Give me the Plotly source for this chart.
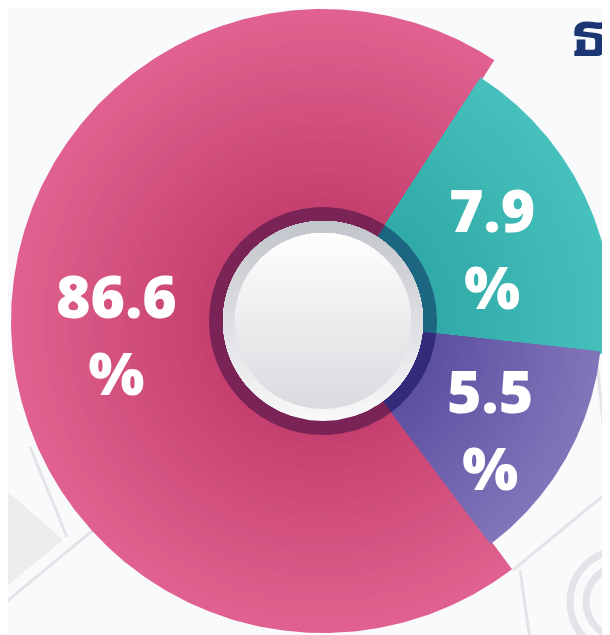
import numpy as np
import plotly.graph_objects as go

# ---------------- data ----------------
# slices in clockwise order, starting at the teal slice
categories = ["7.9%", "5.5%", "86.6%"]
values = [7.9, 5.5, 86.6]
# the infographic is not drawn to scale: angular spans
span_deg = [63.4, 46.0, 250.6]
first_start_deg = 33.3          # clockwise from 12 o'clock
title_text = "ธร"

# ---------------- style ----------------
PAGE_OFF = 8                     # default body margin of the html page
W, H = 610 - PAGE_OFF, 635 - PAGE_OFF
CX, CY = 323 - PAGE_OFF, 321 - PAGE_OFF   # centre of the donut inside the figure
outer_r = [290, 279, 312]
inner_col = ["#2ea8a5", "#584c9f", "#c33d6c"]
outer_col = ["#46c0bc", "#8274b9", "#e0618f"]
ring_col = ["#1c6681", "#342a7a", "#7a2357"]
label_angle = [67.8, 123.8, 265.3]
label_r = [183, 201, 207]
R_RING_IN, R_RING_OUT = 100, 114
R_DISK_IN = 88
FONT = "Open Sans, Noto Sans, DejaVu Sans, sans-serif"
THAI_FONT = ("Noto Sans Thai Looped, Loma, Garuda, Norasi, Sarabun, "
             "Noto Sans Thai, sans-serif")


def hex2rgb(h):
    h = h.lstrip("#")
    return np.array([int(h[i:i + 2], 16) for i in (0, 2, 4)], dtype=float)


def mix(c0, c1, t):
    c = hex2rgb(c0) * (1 - t) + hex2rgb(c1) * t
    return "rgb(%d,%d,%d)" % tuple(np.round(c).astype(int))


def pol(r, a):
    a = np.radians(a)
    return r * np.sin(a), r * np.cos(a)


def sector(r0, r1, a0, a1):
    n = max(8, int(abs(a1 - a0) * 2))
    t = np.linspace(a0, a1, n)
    xo, yo = pol(r1, t)
    xi, yi = pol(r0, t[::-1])
    return np.concatenate([xo, xi, xo[:1]]), np.concatenate([yo, yi, yo[:1]])


def cap(r, yk):
    phi = np.degrees(np.arccos(np.clip(yk / r, -1, 1)))
    t = np.linspace(-phi, phi, 240)
    x, y = pol(r, t)
    return np.append(x, x[0]), np.append(y, y[0])


def poly(x, y, color):
    return go.Scatter(x=x, y=y, fill="toself", fillcolor=color, mode="lines",
                      line=dict(width=0, color=color), hoverinfo="skip",
                      showlegend=False)


traces = []
starts = first_start_deg + np.concatenate([[0], np.cumsum(span_deg)[:-1]])
ends = starts + np.array(span_deg)

# draw pink (largest) first, then the others over its seams
order = [2, 0, 1]
ext = {2: (0.0, 0.0), 0: (-0.4, 0.0), 1: (-0.4, 0.4)}
NB = 26
for i in order:
    a0, a1 = starts[i] + ext[i][0], ends[i] + ext[i][1]
    for k in range(NB):
        f = (NB - k) / NB
        rk = R_RING_IN + (outer_r[i] - R_RING_IN) * f
        x, y = sector(R_RING_IN, rk, a0, a1)
        traces.append(poly(x, y, mix(inner_col[i], outer_col[i], f)))

# dark ring around the hole
for i in order:
    a0, a1 = starts[i] + ext[i][0], ends[i] + ext[i][1]
    x, y = sector(R_RING_IN - 1, R_RING_OUT, a0, a1)
    traces.append(poly(x, y, ring_col[i]))


def grad_disk(r, top, bottom, steps=40):
    out = []
    for k in range(steps):
        yk = -r + 2 * r * k / steps
        t = (yk + r) / (2 * r)
        x, y = cap(r, yk)
        out.append(poly(x, y, mix(bottom, top, t)))
    return out


traces += grad_disk(R_RING_IN, "#c1c4ca", "#f8f8f9")
traces += grad_disk(R_DISK_IN, "#ffffff", "#dadbdf")

fig = go.Figure(traces)

# labels
ann = []
for i in range(len(values)):
    lx, ly = pol(label_r[i], label_angle[i])
    ann.append(dict(x=lx, y=ly, xref="x", yref="y", text=f"{values[i]}<br>%",
                    showarrow=False, xanchor="center", yanchor="middle", align="center",
                    yshift=4,
                    font=dict(family=FONT, size=59, color="white", weight=800)))


def P(px, py):
    """page pixel -> data coordinates"""
    return px - PAGE_OFF - CX, CY - (py - PAGE_OFF)


tx, ty = P(570, 29)
ann.append(dict(x=tx, y=ty, xref="x", yref="y", text=f"<b>{title_text}</b>",
                showarrow=False, xanchor="left", yanchor="middle",
                font=dict(family=THAI_FONT, size=60, color="#1b3672")))

# faint background decoration
deco = "#e3e4e7"
shapes = []
for (p0, p1) in [((0, 607), (150, 483)), ((30, 447), (67, 537)), ((513, 570), (615, 486)),
                 ((597, 363), (610, 490)), ((520, 570), (530, 640))]:
    x0, y0 = P(*p0)
    x1, y1 = P(*p1)
    shapes.append(dict(type="line", x0=x0, y0=y0, x1=x1, y1=y1, xref="x", yref="y",
                       line=dict(color=deco, width=3), layer="below"))
tri = [P(0, 485), P(63, 540), P(8, 585), P(0, 585)]
path = "M " + " L ".join(f"{a},{b}" for a, b in tri) + " Z"
shapes.append(dict(type="path", path=path, xref="x", yref="y", fillcolor="#ececee",
                   line=dict(width=0), layer="below"))
for rr in (52, 36):
    x0, y0 = P(622 - rr, 602 - rr)
    x1, y1 = P(622 + rr, 602 + rr)
    shapes.append(dict(type="circle", x0=x0, y0=y0, x1=x1, y1=y1, xref="x", yref="y",
                       line=dict(color=deco, width=7), layer="below"))

fig.update_layout(
    width=W, height=H, margin=dict(l=0, r=0, t=0, b=0),
    paper_bgcolor="#f9fafb", plot_bgcolor="#f9fafb",
    xaxis=dict(range=[-CX, W - CX], visible=False, fixedrange=True),
    yaxis=dict(range=[-(H - CY), CY], visible=False, fixedrange=True,
               scaleanchor="x", scaleratio=1),
    annotations=ann, shapes=shapes, showlegend=False,
)

fig.write_html("out.html")
